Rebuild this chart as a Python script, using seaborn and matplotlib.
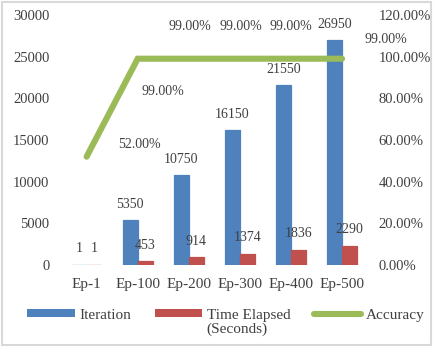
import matplotlib
matplotlib.use("Agg")
import matplotlib.pyplot as plt
from matplotlib.patches import Patch, Rectangle
from matplotlib.lines import Line2D
from matplotlib.ticker import FuncFormatter, MultipleLocator
import numpy as np
import pandas as pd
import seaborn as sns

epochs = ["Ep-1", "Ep-100", "Ep-200", "Ep-300", "Ep-400", "Ep-500"]
iterations = [1, 5350, 10750, 16150, 21550, 26950]
time_elapsed = [1, 453, 914, 1374, 1836, 2290]
accuracy = [52.0, 99.0, 99.0, 99.0, 99.0, 99.0]

series_names = ["Iteration", "Time Elapsed (Seconds)"]
legend_labels = ["Iteration", "Time Elapsed", "Accuracy"]
legend_sub = "(Seconds)"

BLUE = "#4F81BD"
RED = "#C0504D"
GREEN = "#9BBB59"
TEXT = "#404040"

sns.set_theme(style="white")
plt.rcParams["font.family"] = ["Liberation Serif", "DejaVu Serif"]

df = pd.DataFrame({
    "epoch": epochs * 2,
    "value": iterations + time_elapsed,
    "series": [series_names[0]] * len(epochs) + [series_names[1]] * len(epochs),
})

fig = plt.figure(figsize=(4.33, 3.47), dpi=100)
ax = fig.add_axes([0.141, 0.236, 0.708, 0.721])

sns.barplot(data=df, x="epoch", y="value", hue="series", hue_order=series_names,
            order=epochs, palette=[BLUE, RED], width=0.58, gap=0,
            saturation=1, ax=ax, legend=False)
# a thin outline keeps the near-zero bars visible as hairlines
for cont in ax.containers:
    for bar in cont:
        bar.set_edgecolor(bar.get_facecolor())
        bar.set_linewidth(0.9)

for cont in ax.containers:
    ax.bar_label(cont, labels=[f"{v:.0f}" for v in cont.datavalues],
                 padding=7, fontsize=10, color=TEXT)

ax.set_ylim(0, 30000)
ax.yaxis.set_major_locator(MultipleLocator(5000))
ax.set_xlim(-0.5, len(epochs) - 0.5)
ax.set_xlabel("")
ax.set_ylabel("")
ax.tick_params(axis="y", labelsize=10.5, labelcolor=TEXT, length=0, pad=8.4)
ax.tick_params(axis="x", labelsize=11, labelcolor=TEXT, length=0, pad=9.5)
for s in ax.spines.values():
    s.set_visible(False)

ax2 = ax.twinx()
pos = np.arange(len(epochs))
sns.lineplot(x=pos, y=accuracy, color=GREEN, linewidth=4.4, ax=ax2,
             solid_capstyle="round", solid_joinstyle="miter")
ax2.set_ylim(0, 120)
ax2.yaxis.set_major_locator(MultipleLocator(20))
ax2.yaxis.set_major_formatter(FuncFormatter(lambda v, _: f"{v:.2f}%"))
ax2.tick_params(axis="y", labelsize=10.5, labelcolor=TEXT, length=0, pad=8)
ax2.set_xlim(-0.5, len(epochs) - 0.5)
for s in ax2.spines.values():
    s.set_visible(False)

offsets = [(53, 12), (25, -33), (1, 32), (1, 32), (0, 32), (44, 19)]
for x, acc, off in zip(pos, accuracy, offsets):
    ax2.annotate(f"{acc:.2f}%", (x, acc), xytext=off, textcoords="offset pixels",
                 ha="center", va="center", fontsize=10, color=TEXT)

handles = [
    Patch(facecolor=BLUE, edgecolor="none"),
    Patch(facecolor=RED, edgecolor="none"),
    Line2D([0], [0], color=GREEN, linewidth=4.4),
]
leg = fig.legend(handles, legend_labels, loc="center", bbox_to_anchor=(0.522, 0.092),
                 ncol=3, frameon=False, fontsize=11, labelcolor=TEXT,
                 handlelength=3.1, handleheight=0.45, columnspacing=1.55,
                 handletextpad=0.3, borderpad=0, borderaxespad=0)

# second line of the time legend entry, set under its first line
fig.canvas.draw()
renderer = fig.canvas.get_renderer()
bb = leg.get_texts()[1].get_window_extent(renderer).transformed(fig.transFigure.inverted())
fig.text(bb.x0, bb.y0 - 0.004, legend_sub, ha="left", va="top",
         fontsize=11, color=TEXT)

fig.patches.append(Rectangle((0.005, 0.006), 0.99, 0.988, transform=fig.transFigure,
                             fill=False, edgecolor="#D9D9D9", linewidth=1.5))

fig.savefig("out.png", dpi=100)
